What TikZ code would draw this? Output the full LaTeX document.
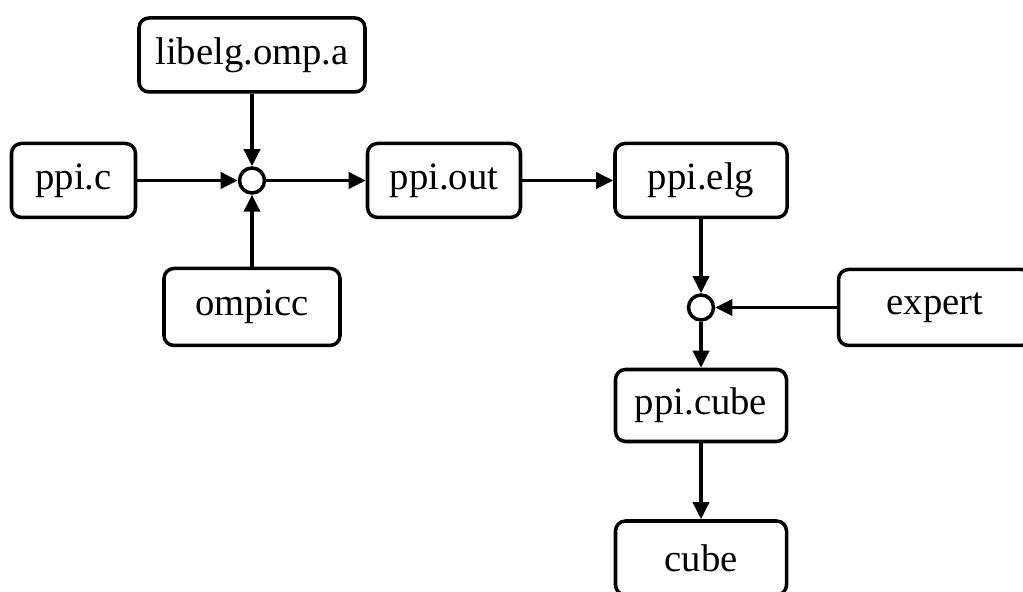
\documentclass[tikz,border=0pt]{standalone}
\usepackage{fontspec}
\setmainfont{Liberation Serif}
\usetikzlibrary{arrows.meta}

\tikzset{
  file/.style={draw, rounded corners=0.2cm, line width=2pt,
    minimum height=1.48cm, font=\fontsize{22}{26}\selectfont},
  merge/.style={draw, circle, line width=2pt, minimum size=0.5cm, inner sep=0pt},
  flow/.style={line width=2pt, -{Triangle[length=0.34cm,width=0.32cm]}}
}

\begin{document}
\begin{tikzpicture}
  \useasboundingbox (0,0) rectangle (20.46,11.84);
  % compile step
  \node[file, minimum width=4.52cm] (lib) at (5.04,10.74) {libelg.omp.a};
  \node[file, minimum width=2.48cm] (ppic) at (1.47,8.23) {ppi.c};
  \node[merge] (mix) at (5.04,8.23) {};
  \node[file, minimum width=3.52cm, minimum height=1.54cm] (ompicc) at (5.04,5.70) {ompicc};
  \node[file, minimum width=3.06cm] (pout) at (8.88,8.23) {ppi.out};
  \node[file, minimum width=3.44cm] (pelg) at (14.02,8.23) {ppi.elg};
  % expert step
  \node[merge] (mix2) at (14.02,5.69) {};
  \node[file, minimum width=3.86cm, minimum height=1.52cm] (expert) at (18.70,5.69) {expert};
  \node[file, minimum width=3.42cm, minimum height=1.44cm] (pcube) at (14.02,3.73) {ppi.cube};
  \node[file, minimum width=3.42cm] (cube) at (14.02,0.68) {cube};
  \draw[flow] (lib) -- (mix);
  \draw[flow] (ppic) -- (mix);
  \draw[flow] (ompicc) -- (mix);
  \draw[flow] (mix) -- (pout);
  \draw[flow] (pout) -- (pelg);
  \draw[flow] (pelg) -- (mix2);
  \draw[flow] (expert) -- (mix2);
  \draw[flow] (mix2) -- (pcube);
  \draw[flow] (pcube) -- (cube);
\end{tikzpicture}
\end{document}
